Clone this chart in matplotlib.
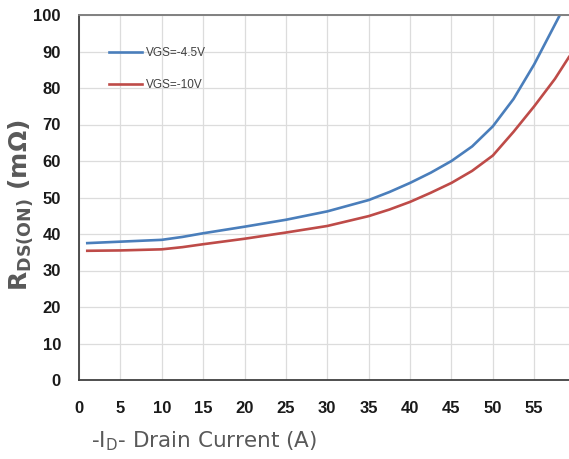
import matplotlib
matplotlib.use("Agg")
import matplotlib.pyplot as plt

# Data
id_vgs45 = [1, 5, 10, 12.5, 15, 20, 25, 30, 35, 37.5, 40, 42.5, 45, 47.5, 50, 52.5, 55, 58.1]
rds_vgs45 = [37.5, 37.9, 38.4, 39.2, 40.2, 42.0, 43.9, 46.2, 49.3, 51.5, 54.0, 56.8, 60.0, 64.0,
             69.5, 77.0, 86.5, 100.0]

id_vgs10 = [1, 5, 10, 12.5, 15, 20, 25, 30, 35, 37.5, 40, 42.5, 45, 47.5, 50, 52.5, 55, 57.5, 59.2]
rds_vgs10 = [35.4, 35.5, 35.8, 36.4, 37.2, 38.7, 40.4, 42.2, 44.9, 46.7, 48.8, 51.3, 54.0, 57.3,
             61.5, 68.0, 75.0, 82.5, 88.5]

label_vgs45 = "VGS=-4.5V"
label_vgs10 = "VGS=-10V"
xticks = list(range(0, 60, 5))
yticks = list(range(0, 110, 10))

plt.rcParams["font.family"] = ["Liberation Sans", "DejaVu Sans"]
plt.rcParams["mathtext.fontset"] = "dejavusans"

fig = plt.figure(figsize=(5.69, 4.59), dpi=100)
ax = fig.add_axes([79 / 569, 1 - 380 / 459, 1 - 79 / 569, (380 - 15) / 459])

ax.plot(id_vgs45, rds_vgs45, color="#4a7ebb", lw=1.9, label=label_vgs45)
ax.plot(id_vgs10, rds_vgs10, color="#be4b48", lw=1.9, label=label_vgs10)

ax.set_xlim(0, 59.2)
ax.set_ylim(0, 100)
ax.set_xticks(xticks)
ax.set_yticks(yticks)
ax.grid(True, color="#dcdcdc", lw=0.9)
ax.set_axisbelow(True)

for lab in ax.get_xticklabels() + ax.get_yticklabels():
    lab.set_fontweight("bold")
    lab.set_fontsize(12)
    lab.set_color("#1a1a1a")
ax.tick_params(axis="both", length=0)
ax.tick_params(axis="x", pad=15)
ax.tick_params(axis="y", pad=13)

for s in ["left", "bottom"]:
    ax.spines[s].set_color("#404040")
    ax.spines[s].set_linewidth(1.3)
ax.spines["top"].set_color("#808080")
ax.spines["top"].set_linewidth(1.4)
ax.spines["right"].set_visible(False)

ax.set_ylabel(r"$\mathbf{R_{DS(ON)}}$ (m$\mathbf{\Omega}$)", fontsize=18, fontweight="bold",
              color="#595959", family="DejaVu Sans")
ax.yaxis.set_label_coords(-(79 - 36) / 490, 0.48)
ax.set_xlabel(r"-I$_{\mathregular{D}}$- Drain Current (A)", fontsize=15.5, color="#595959",
              family="DejaVu Sans")
ax.xaxis.set_label_coords((204 - 79) / 490, -(429 - 380) / 365)

leg = ax.legend(loc="upper left", bbox_to_anchor=(0.061, 0.913), frameon=False,
                fontsize=8.5, handlelength=2.8, handletextpad=0.3, labelspacing=1.7,
                borderpad=0, borderaxespad=0)
for t in leg.get_texts():
    t.set_color("#404040")

fig.savefig("out.png", dpi=100)
